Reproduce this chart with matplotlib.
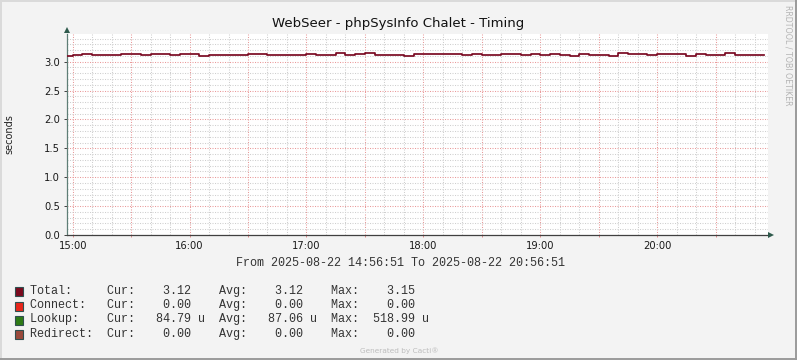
import matplotlib
matplotlib.use('Agg')
import matplotlib.pyplot as plt
import matplotlib.dates as mdates
import matplotlib.ticker as mticker
from matplotlib.patches import Rectangle, Polygon
import pandas as pd

# 5-minute steps starting 2025-08-22 14:55 (values in seconds)
step_start = '2025-08-22 14:55'
total = [3.105,
         3.12, 3.135, 3.12, 3.12, 3.12, 3.135, 3.135, 3.12, 3.135, 3.135, 3.12, 3.135,   # 15:xx
         3.135, 3.105, 3.12, 3.12, 3.12, 3.12, 3.135, 3.135, 3.12, 3.12, 3.12, 3.12,     # 16:xx
         3.135, 3.12, 3.12, 3.15, 3.12, 3.135, 3.15, 3.12, 3.12, 3.12, 3.105, 3.135,     # 17:xx
         3.135, 3.135, 3.135, 3.135, 3.12, 3.135, 3.12, 3.12, 3.135, 3.135, 3.12, 3.135, # 18:xx
         3.12, 3.135, 3.12, 3.105, 3.135, 3.12, 3.12, 3.105, 3.15, 3.135, 3.135, 3.12,   # 19:xx
         3.135, 3.135, 3.135, 3.105, 3.135, 3.12, 3.12, 3.15, 3.12, 3.12, 3.12]          # 20:xx
t_from = '2025-08-22 14:56:51'
t_to = '2025-08-22 20:56:51'

title = 'WebSeer - phpSysInfo Chalet - Timing'
ylabel = 'seconds'

legend_names = ['Total:', 'Connect:', 'Lookup:', 'Redirect:']
legend_colors = ['#7B0A1E', '#E8261B', '#2E7B15', '#9A4A3C']
cur_vals = [3.12, 0.00, 84.79, 0.00]
avg_vals = [3.12, 0.00, 87.06, 0.00]
max_vals = [3.15, 0.00, 518.99, 0.00]
units = [' ', ' ', 'u', ' ']

W, H = 797, 360
fig = plt.figure(figsize=(W / 100, H / 100), dpi=100, facecolor='#F3F3F3')

# plot area in pixels: x 66.5..768, y 34..235
ax = fig.add_axes([66.5 / W, 1 - 235 / H, (768 - 66.5) / W, (235 - 34) / H])
ax.set_facecolor('white')

times = pd.date_range(step_start, periods=len(total), freq='5min')
times = list(times) + [times[-1] + pd.Timedelta('5min')]
vals = total + [total[-1]]
ax.plot(times, vals, drawstyle='steps-post', color='#7A0A22', lw=1.25, zorder=3)

ax.set_xlim(pd.Timestamp(t_from), pd.Timestamp(t_to))
ax.set_ylim(0, 3.478)

ax.xaxis.set_major_locator(mdates.MinuteLocator(byminute=[0, 30]))
ax.xaxis.set_minor_locator(mdates.MinuteLocator(byminute=range(0, 60, 10)))
ax.xaxis.set_major_formatter(mticker.FuncFormatter(
    lambda x, pos: mdates.num2date(x).strftime('%H:%M') if mdates.num2date(x).minute == 0 else ''))
ax.yaxis.set_major_locator(mticker.MultipleLocator(0.5))
ax.yaxis.set_minor_locator(mticker.MultipleLocator(0.1))
ax.yaxis.set_major_formatter(mticker.FormatStrFormatter('%.1f'))

dots = (0, (1, 1.4))
ax.grid(which='minor', color='#CFCFCF', lw=0.75, linestyle=dots, zorder=1)
ax.grid(which='major', color='#E99A9A', lw=0.75, linestyle=dots, zorder=1)
ax.set_axisbelow(True)

for s in ['top', 'right']:
    ax.spines[s].set_visible(False)
ax.spines['left'].set_color('#5E7E76')
ax.spines['bottom'].set_color('#404040')
ax.spines['left'].set_linewidth(0.9)
ax.spines['bottom'].set_linewidth(0.9)

ax.tick_params(axis='x', which='major', length=1.6, width=0.7, color='#E08888',
               pad=2.4, labelsize=7.2, labelcolor='#1A1A1A')
ax.tick_params(axis='x', which='minor', length=0)
ax.tick_params(axis='y', which='major', length=2.2, width=0.7, color='#404040',
               pad=2.6, labelsize=7.2, labelcolor='#1A1A1A')
ax.tick_params(axis='y', which='minor', length=0)

# overlay in pixel coordinates for the texts and decorations
ov = fig.add_axes([0, 0, 1, 1])
ov.set_xlim(0, W)
ov.set_ylim(H, 0)
ov.axis('off')
ov.patch.set_alpha(0)

# axis arrows
ov.add_patch(Polygon([[64, 33], [70, 33], [67, 27]], closed=True, color='#2F5A4C', lw=0))
ov.add_patch(Polygon([[768, 232], [768, 238], [774, 235]], closed=True, color='#2F5A4C', lw=0))

# border
ov.plot([1, W - 1], [1, 1], color='#DADADA', lw=1.4)
ov.plot([1, 1], [1, H - 1], color='#DADADA', lw=1.4)
ov.plot([0, W], [H - 1, H - 1], color='#9A9A9A', lw=1.4)
ov.plot([W - 1, W - 1], [0, H], color='#9A9A9A', lw=1.4)

ov.text(398, 27.5, title, ha='center', va='baseline', fontsize=9.5, color='#111111')
ov.text(9, 134, ylabel, rotation=90, ha='center', va='center', fontsize=7, color='#222222')
ov.text(788, 5, 'RRDTOOL / TOBI OETIKER', rotation=270, ha='center', va='top',
        fontsize=5.7, color='#B4B4B4')

mono = 'Liberation Mono'
ov.text(400.5, 266, 'From %s To %s' % (t_from, t_to), ha='center', va='baseline',
        family=mono, fontsize=8.5, color='#333333')

for i, name in enumerate(legend_names):
    b = 294 + 14.2 * i
    ov.add_patch(Rectangle((15, b - 6.7), 8.3, 9.0, facecolor=legend_colors[i],
                           edgecolor='#2F4F4F', lw=0.8))
    u = units[i]
    line = '%-11sCur:%8.2f %s  Avg:%8.2f %s  Max:%8.2f %s' % (
        name, cur_vals[i], u, avg_vals[i], u, max_vals[i], u)
    ov.text(30, b, line, ha='left', va='baseline', family=mono, fontsize=8.5, color='#333333')

ov.text(399, 352.5, 'Generated by Cacti\u00ae', ha='center', va='baseline', fontsize=5.3,
        color='#BDBDBD')

fig.savefig('out.png', dpi=100, facecolor=fig.get_facecolor())
